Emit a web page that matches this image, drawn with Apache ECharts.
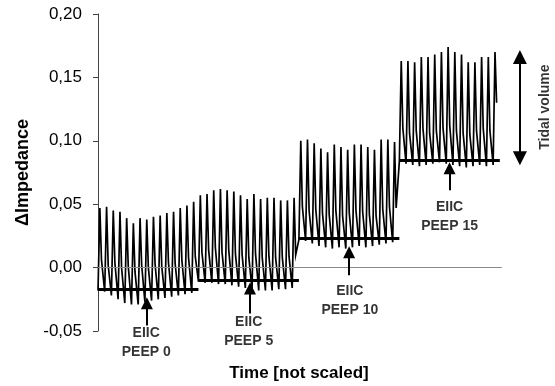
<!DOCTYPE html>
<html><head><meta charset="utf-8">
<script src="https://cdn.jsdelivr.net/npm/echarts@6/dist/echarts.min.js"></script>
<style>html,body{margin:0;padding:0;background:#fff}#c{width:555px;height:386px}</style>
</head><body><div id="c"></div>
<script>
// Breath cycles per PEEP stage: peak, shoulder (after expiration start) and trough values
const peaks1     = [0.047, 0.048, 0.045, 0.044, 0.039, 0.035, 0.039, 0.038, 0.040, 0.041, 0.043, 0.044, 0.047, 0.049, 0.052];
const shoulders1 = [0.006, 0.002, 0.004, 0.000, 0.001, -0.003, 0.002, 0.000, 0.003, 0.001, 0.004, 0.003, 0.006, 0.008, 0.009];
const troughs1   = [-0.018, -0.019, -0.022, -0.025, -0.028, -0.029, -0.029, -0.027, -0.026, -0.025, -0.024, -0.023, -0.022, -0.021, -0.020];

const peaks2     = [0.057, 0.058, 0.061, 0.062, 0.061, 0.060, 0.057, 0.054, 0.058, 0.054, 0.055, 0.055, 0.053, 0.053, 0.055];
const shoulders2 = [0.012, 0.014, 0.016, 0.012, 0.014, 0.011, 0.010, 0.008, 0.011, 0.008, 0.009, 0.008, 0.008, 0.009, 0.010];
const troughs2   = [-0.011, -0.012, -0.012, -0.013, -0.013, -0.014, -0.015, -0.016, -0.017, -0.018, -0.018, -0.018, -0.017, -0.017, -0.016];

const peaks3     = [0.100, 0.101, 0.098, 0.094, 0.091, 0.097, 0.095, 0.093, 0.097, 0.097, 0.095, 0.093, 0.101, 0.101, 0.099];
const shoulders3 = [0.048, 0.045, 0.046, 0.043, 0.042, 0.045, 0.041, 0.043, 0.045, 0.044, 0.042, 0.041, 0.046, 0.048, 0.047];
const troughs3   = [0.022, 0.021, 0.019, 0.017, 0.016, 0.015, 0.016, 0.015, 0.016, 0.017, 0.016, 0.017, 0.018, 0.019, 0.020];

const peaks4     = [0.163, 0.163, 0.162, 0.166, 0.166, 0.168, 0.170, 0.174, 0.170, 0.168, 0.162, 0.162, 0.166, 0.166, 0.170];
const shoulders4 = [0.110, 0.106, 0.108, 0.110, 0.106, 0.108, 0.110, 0.112, 0.108, 0.106, 0.105, 0.108, 0.110, 0.108, 0.130];
const troughs4   = [0.084, 0.082, 0.081, 0.080, 0.081, 0.082, 0.083, 0.082, 0.081, 0.080, 0.079, 0.080, 0.081, 0.080, 0.081];

// EIIC baseline level per stage
const eiic = [-0.017, -0.010, 0.023, 0.085];
const stageNames = ['PEEP 0', 'PEEP 5', 'PEEP 10', 'PEEP 15'];

// y axis
const yMin = -0.05, yMax = 0.20, yStep = 0.05;

// annotation anchors (data coordinates)
const arrowX    = [7.3, 22.7, 37.5, 52.5];
const arrowTip  = [-0.0282, -0.0164, 0.0121, 0.0784];
const arrowBase = [-0.0456, -0.0362, -0.0061, 0.0611];
const labelX    = [7.2, 22.5, 37.6, 52.5];
const labelY    = [-0.0594, -0.0503, -0.0262, 0.0401];
const tidalX = 63, tidalTop = 0.1661, tidalBottom = 0.0863;
const tidalTextX = 66.7, tidalTextY = 0.1266;

const cyclesPerStage = 15;
const stages = [[peaks1, shoulders1, troughs1], [peaks2, shoulders2, troughs2],
                [peaks3, shoulders3, troughs3], [peaks4, shoulders4, troughs4]];
const wave = [];
stages.forEach((s, k) => {
  s[0].forEach((p, i) => {
    const x = k * cyclesPerStage + i;
    wave.push([x, s[2][i]], [x + 0.28, p], [x + 0.52, s[1][i]]);
  });
});
const xEnd = stages.length * cyclesPerStage;

const font = "'Liberation Sans', Arial, sans-serif";

const chart = echarts.init(document.getElementById('c'), null, {renderer: 'canvas'});
chart.setOption({
  animation: false,
  backgroundColor: '#fff',
  grid: {left: 98, right: 15, top: 14, bottom: 55, containLabel: false},
  xAxis: {type: 'value', min: 0, max: 66, show: false},
  yAxis: {
    type: 'value', min: yMin, max: yMax, interval: yStep,
    name: 'ΔImpedance', nameLocation: 'middle', nameRotate: 90, nameGap: 55,
    nameTextStyle: {fontFamily: font, fontWeight: 'bold', fontSize: 18, color: '#000'},
    axisLine: {show: true, lineStyle: {color: '#444', width: 1}},
    axisTick: {show: true, inside: false, length: 5, lineStyle: {color: '#444'}},
    axisLabel: {margin: 16, fontFamily: font, fontSize: 17, color: '#000',
      formatter: v => v.toFixed(2).replace('.', ',')},
    splitLine: {show: false}
  },
  graphic: [{type: 'text', x: 299, y: 373,
    style: {text: 'Time [not scaled]', font: 'bold 17px ' + font, fill: '#000',
      textAlign: 'center', textVerticalAlign: 'middle'}}],
  series: [
    {
      type: 'line', data: [], silent: true,
      markLine: {
        silent: true, symbol: 'none', label: {show: false}, animation: false,
        lineStyle: {type: 'solid', color: '#8a8a8a', width: 1},
        data: [[{coord: [0, 0]}, {coord: [xEnd + 0.3, 0]}]]
      }
    },
    {
      type: 'line', data: wave, showSymbol: false, symbol: 'none', silent: true,
      lineStyle: {color: '#000', width: 1.7, join: 'miter'}, z: 3
    },
    {
      type: 'line', data: [], silent: true, z: 4,
      markLine: {
        silent: true, symbol: 'none', label: {show: false}, animation: false,
        lineStyle: {type: 'solid', color: '#000', width: 3.2},
        data: eiic.map((v, k) => [{coord: [k * cyclesPerStage, v]}, {coord: [(k + 1) * cyclesPerStage, v]}])
      }
    },
    {
      type: 'line', data: [], silent: true, z: 5,
      markLine: {
        silent: true, label: {show: false}, animation: false,
        symbol: ['none', 'triangle'], symbolSize: [12, 12],
        lineStyle: {type: 'solid', color: '#000', width: 2},
        itemStyle: {color: '#000'},
        data: arrowX.map((x, k) => [{coord: [x, arrowBase[k]]}, {coord: [x, arrowTip[k]]}])
          .concat([[{coord: [tidalX, tidalBottom], symbol: 'triangle', symbolSize: [14, 14]},
                    {coord: [tidalX, tidalTop], symbolSize: [14, 14]}]])
      }
    },
    {
      type: 'scatter', clip: false, silent: true, symbolSize: 0, z: 6,
      data: stageNames.map((n, k) => ({value: [labelX[k], labelY[k]], name: 'EIIC\n' + n})),
      label: {show: true, position: 'inside', formatter: p => p.name,
        fontFamily: font, fontWeight: 'bold', fontSize: 14, lineHeight: 19, color: '#000'}
    },
    {
      type: 'scatter', clip: false, silent: true, symbolSize: 0, z: 6,
      data: [{value: [tidalTextX, tidalTextY], name: 'Tidal volume'}],
      label: {show: true, position: 'inside', rotate: 90, formatter: p => p.name,
        fontFamily: font, fontWeight: 'bold', fontSize: 14, color: '#000'}
    }
  ]
});
</script>
</body></html>
